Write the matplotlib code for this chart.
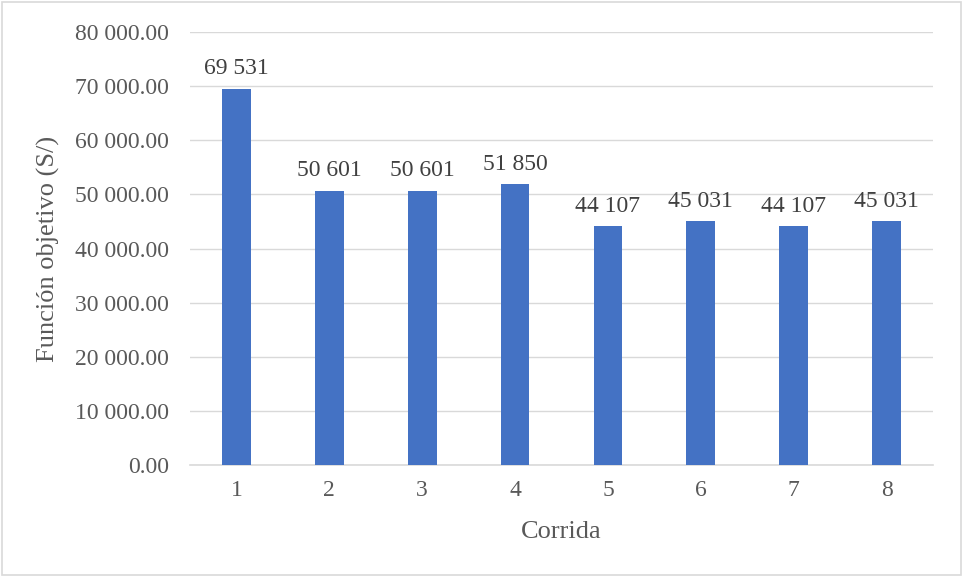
import matplotlib
matplotlib.use('Agg')
import matplotlib.pyplot as plt
from matplotlib.patches import Rectangle
from matplotlib.ticker import FuncFormatter

# resultados por corrida
corridas = ['1', '2', '3', '4', '5', '6', '7', '8']
funcion_obj = [69531, 50601, 50601, 51850, 44107, 45031, 44107, 45031]

plt.rcParams['font.family'] = ['Liberation Serif', 'DejaVu Serif']
gris = '#595959'

fig = plt.figure(figsize=(9.63, 5.77), dpi=100)
ax = fig.add_axes([0.1973, 0.1941, 0.7716, 0.7504])

x = range(len(corridas))
barras = ax.bar(x, funcion_obj, width=0.31, color='#4472C4', zorder=3)

for b, v in zip(barras, funcion_obj):
    ax.annotate(f'{v:,}'.replace(',', ' '), (b.get_x() + b.get_width() / 2, v),
                xytext=(0, 7), textcoords='offset points',
                ha='center', va='bottom', fontsize=17, color='#404040')

ax.set_xlim(-0.5, len(corridas) - 0.5)
ax.set_ylim(0, 80000)
ax.set_yticks(range(0, 80001, 10000))
ax.yaxis.set_major_formatter(FuncFormatter(lambda v, p: f'{v:,.2f}'.replace(',', ' ')))
ax.set_xticks(list(x))
ax.set_xticklabels(corridas)

ax.grid(axis='y', color='#D9D9D9', linewidth=1.0, zorder=0)
for s in ['top', 'right', 'left']:
    ax.spines[s].set_visible(False)
ax.spines['bottom'].set_color('#D9D9D9')
ax.spines['bottom'].set_linewidth(1.2)
ax.tick_params(length=0, labelsize=17, labelcolor=gris)
ax.tick_params(axis='y', pad=15)
ax.tick_params(axis='x', pad=11)

ax.set_ylabel('Función objetivo (S/)', fontsize=19, color=gris)
ax.set_xlabel('Corrida', fontsize=19, color=gris)
ax.yaxis.label.set_va('center')
ax.xaxis.label.set_va('center')
ax.yaxis.set_label_coords(-0.19, 0.5)
ax.xaxis.set_label_coords(0.5, -0.155)

# marco del gráfico
fig.patches.append(Rectangle((0.002, 0.003), 0.996, 0.994, transform=fig.transFigure,
                             fill=False, edgecolor='#D9D9D9', linewidth=1.2))

fig.savefig('out.png', dpi=100)
